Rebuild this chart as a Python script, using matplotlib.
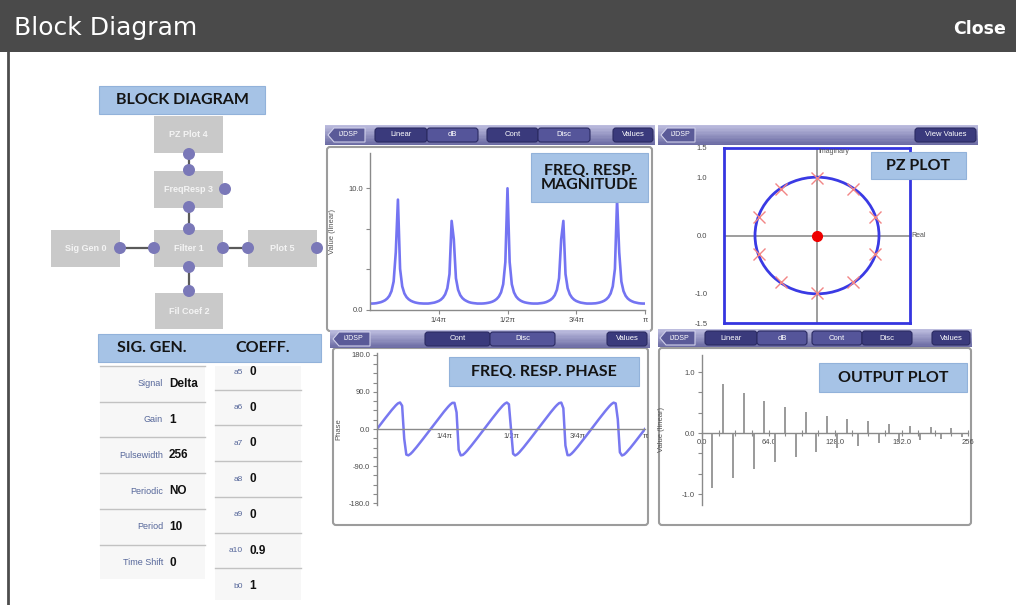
import numpy as np
import matplotlib
matplotlib.use("Agg")
import matplotlib.pyplot as plt
from matplotlib.patches import Rectangle, FancyBboxPatch, Circle, Polygon
from matplotlib.colors import to_rgb

W, H = 1016, 605

# ---------------- data ----------------
# magnitude of the frequency response, 129 samples over [0, pi]
mag_values = [
    0.53, 0.53, 0.54, 0.56, 0.60, 0.64, 0.71, 0.80, 0.94, 1.16,
    1.55, 2.34, 4.74, 9.07, 3.38, 1.94, 1.36, 1.06, 0.88, 0.76,
    0.68, 0.62, 0.58, 0.55, 0.54, 0.53, 0.53, 0.53, 0.55, 0.58,
    0.61, 0.67, 0.74, 0.85, 1.02, 1.29, 1.79, 2.95, 7.32, 5.82,
    2.61, 1.66, 1.22, 0.98, 0.83, 0.73, 0.65, 0.60, 0.57, 0.55,
    0.53, 0.53, 0.53, 0.54, 0.56, 0.59, 0.63, 0.69, 0.78, 0.91,
    1.11, 1.45, 2.12, 3.95, 10.00,
    3.95, 2.12, 1.45, 1.11, 0.91, 0.78, 0.69, 0.63, 0.59, 0.56,
    0.54, 0.53, 0.53, 0.53, 0.55, 0.57, 0.60, 0.65, 0.73, 0.83,
    0.98, 1.22, 1.66, 2.61, 5.82, 7.32, 2.95, 1.79, 1.29, 1.02,
    0.85, 0.74, 0.67, 0.61, 0.58, 0.55, 0.53, 0.53, 0.53, 0.54,
    0.55, 0.58, 0.62, 0.68, 0.76, 0.88, 1.06, 1.36, 1.94, 3.38,
    9.07, 4.74, 2.34, 1.55, 1.16, 0.94, 0.80, 0.71, 0.64, 0.60,
    0.56, 0.54, 0.53, 0.53,
]
# phase of the frequency response in degrees, same 129 samples
phase_values = [
    0.0, 6.7, 13.3, 19.9, 26.5, 33.0, 39.5, 45.7, 51.7, 57.3,
    62.0, 64.2, 56.3, -23.6, -62.0, -63.8, -60.3, -55.2, -49.4, -43.2,
    -36.9, -30.4, -23.9, -17.3, -10.6, -4.0, 2.7, 9.3, 16.0, 22.6,
    29.1, 35.6, 42.0, 48.2, 54.0, 59.3, 63.3, 63.3, 40.2, -50.3,
    -63.9, -62.7, -58.3, -52.9, -46.9, -40.7, -34.3, -27.8, -21.3, -14.6,
    -8.0, -1.3, 5.3, 12.0, 18.6, 25.2, 31.7, 38.2, 44.5, 50.6,
    56.3, 61.1, 64.1, 59.9, 0.0,
    -59.9, -64.1, -61.1, -56.3, -50.6, -44.5, -38.2, -31.7, -25.2, -18.6,
    -12.0, -5.3, 1.3, 8.0, 14.6, 21.3, 27.8, 34.3, 40.7, 46.9,
    52.9, 58.3, 62.7, 63.9, 50.3, -40.2, -63.3, -63.3, -59.3, -54.0,
    -48.2, -42.0, -35.6, -29.1, -22.6, -16.0, -9.3, -2.7, 4.0, 10.6,
    17.3, 23.9, 30.4, 36.9, 43.2, 49.4, 55.2, 60.3, 63.8, 62.0,
    23.6, -56.3, -64.2, -62.0, -57.3, -51.7, -45.7, -39.5, -33.0, -26.5,
    -19.9, -13.3, -6.7, 0.0,
]
freq_ticks = [32, 64, 96, 128]
freq_tick_labels = ["1/4\u03c0", "1/2\u03c0", "3/4\u03c0", "\u03c0"]

output_n = [0, 10, 20, 30, 40, 50, 60, 70, 80, 90, 100, 110, 120,
            130, 140, 150, 160, 170, 180, 190, 200, 210, 220, 230, 240, 250]
output_values = [1.0, -0.9, 0.81, -0.73, 0.66, -0.59, 0.53, -0.48, 0.43,
                 -0.39, 0.35, -0.31, 0.28, -0.25, 0.23, -0.21, 0.19, -0.17,
                 0.15, -0.14, 0.12, -0.11, 0.10, -0.09, 0.08, -0.07]
out_xticks = [0, 64, 128, 192, 256]
out_xtick_labels = ["0.0", "64.0", "128.0", "192.0", "256"]

pole_re = [0.94, 0.58, 0.0, -0.58, -0.94, -0.94, -0.58, 0.0, 0.58, 0.94]
pole_im = [0.31, 0.80, 0.99, 0.80, 0.31, -0.31, -0.80, -0.99, -0.80, -0.31]
zero_re = [0.0]
zero_im = [0.0]
pz_yticks = [-1.5, -1.0, 0.0, 1.0, 1.5]

sig_labels = ["Signal", "Gain", "Pulsewidth", "Periodic", "Period", "Time Shift"]
sig_values = ["Delta", "1", "256", "NO", "10", "0"]
coef_labels = ["a5", "a6", "a7", "a8", "a9", "a10", "b0"]
coef_values = ["0", "0", "0", "0", "0", "0.9", "1"]
block_names = ["PZ Plot 4", "FreqResp 3", "Filter 1", "Sig Gen 0", "Plot 5", "Fil Coef 2"]

# ---------------- figure ----------------
LBL = "Lato"
SANS = "Liberation Sans"
fig = plt.figure(figsize=(W / 100, H / 100), dpi=100)
fig.patch.set_facecolor("white")
bg = fig.add_axes([0, 0, 1, 1])
bg.set_xlim(0, W)
bg.set_ylim(H, 0)
bg.axis("off")


def pax(x0, y0, x1, y1):
    ax = fig.add_axes([x0 / W, 1 - y1 / H, (x1 - x0) / W, (y1 - y0) / H])
    ax.set_facecolor("none")
    return ax


def rbox(ax, x0, y0, x1, y1, fc, ec="none", lw=0.8, r=3, z=1):
    ax.add_patch(FancyBboxPatch((x0, y0), x1 - x0, y1 - y0,
                                boxstyle=f"round,pad=0,rounding_size={r}",
                                fc=fc, ec=ec, lw=lw, zorder=z))


# header
bg.add_patch(Rectangle((0, 0), W, 52, fc="#4a4a4a", ec="none"))
bg.text(14, 28, "Block Diagram", color="white", fontsize=18, ha="left",
        va="center", family="DejaVu Sans")
bg.text(1006, 29, "Close", color="white", fontsize=12.5, fontweight="bold",
        ha="right", va="center", family="DejaVu Sans")
bg.plot([8, 8], [52, 605], color="#4d4d4d", lw=2)

# block diagram
block_boxes = [(154, 116, 223, 153), (154, 171, 223, 208), (154, 230, 223, 267),
               (51, 230, 120, 267), (248, 230, 317, 267), (155, 293, 223, 329)]
for name, (x0, y0, x1, y1) in zip(block_names, block_boxes):
    bg.add_patch(Rectangle((x0, y0), x1 - x0, y1 - y0, fc="#c9c9c9", ec="none"))
    bg.text((x0 + x1) / 2, (y0 + y1) / 2, name, color="#f4f4f4", fontsize=6.5,
            fontweight="bold", ha="center", va="center", family=SANS)
links = [((189, 154), (189, 170)), ((189, 207), (189, 229)),
         ((120, 248), (154, 248)), ((223, 248), (248, 248)),
         ((189, 267), (189, 291))]
for (a, b) in links:
    bg.plot([a[0], b[0]], [a[1], b[1]], color="#5a5a5a", lw=1.6, zorder=2)
dots = [(189, 154), (189, 170), (225, 189), (189, 207), (189, 229), (154, 248),
        (223, 248), (189, 267), (120, 248), (248, 248), (317, 248), (189, 291)]
for (x, y) in dots:
    bg.add_patch(Circle((x, y), 6, fc="#7a78b8", ec="none", zorder=3))

# title boxes (left)
bg.add_patch(Rectangle((99, 86), 166, 28, fc="#a6c3e6", ec="#92b2da", lw=0.8))
bg.text(182, 100.5, "BLOCK DIAGRAM", fontsize=11.5, fontweight="bold",
        family=LBL, ha="center", va="center", color="#141414")
bg.add_patch(Rectangle((98, 334), 223, 28, fc="#a6c3e6", ec="#92b2da", lw=0.8))
bg.text(152, 348.5, "SIG. GEN.", fontsize=11.5, fontweight="bold", family=LBL,
        ha="center", va="center", color="#141414")
bg.text(263, 348.5, "COEFF.", fontsize=11.5, fontweight="bold", family=LBL,
        ha="center", va="center", color="#141414")

# sig gen table
bg.add_patch(Rectangle((100, 366), 105, 213, fc="#f7f7f7", ec="none"))
for i, (lab, val) in enumerate(zip(sig_labels, sig_values)):
    ytop = 366 + i * 35.7
    bg.plot([100, 205], [ytop, ytop], color="#c2c2c2", lw=1)
    yc = ytop + 18
    bg.text(163, yc, lab, fontsize=6.5, color="#56679a", ha="right", va="center",
            family=SANS)
    bg.text(169, yc, val, fontsize=8.5, color="#111111", ha="left", va="center",
            fontweight="bold", family=SANS)

# coefficient table
bg.add_patch(Rectangle((215, 366), 86, 234, fc="#f7f7f7", ec="none"))
for i, (lab, val) in enumerate(zip(coef_labels, coef_values)):
    ytop = 354 + i * 35.7
    if i > 0:
        bg.plot([215, 301], [ytop, ytop], color="#c2c2c2", lw=1)
    yc = ytop + 18
    bg.text(243, yc, lab, fontsize=6, color="#56679a", ha="right", va="center",
            family=SANS)
    bg.text(249, yc, val, fontsize=8.5, color="#111111", ha="left", va="center",
            fontweight="bold", family=SANS)

# plot frames
rbox(bg, 327, 147, 652, 331, "white", "#9c9c9c", 1.5)
rbox(bg, 333, 348, 648, 525, "white", "#9c9c9c", 1.5)
rbox(bg, 659, 348, 971, 525, "white", "#9c9c9c", 1.5)


# toolbars
def toolbar(x0, x1, y0, y1):
    n = 14
    top = np.array(to_rgb("#bcbcde"))
    bot = np.array(to_rgb("#6c6ca4"))
    for i in range(n):
        c = top + (bot - top) * i / (n - 1)
        bg.add_patch(Rectangle((x0, y0 + (y1 - y0) * i / n), x1 - x0,
                               (y1 - y0) / n + 0.4, fc=c, ec="none", zorder=4))


def back(x0, x1, y0, y1):
    ym = (y0 + y1) / 2
    bg.add_patch(Polygon([(x0, ym), (x0 + 6, y0), (x1, y0), (x1, y1), (x0 + 6, y1)],
                         closed=True, fc="#5a5a98", ec="#d0d0ea", lw=0.8, zorder=5))
    bg.text((x0 + x1) / 2 + 2, ym, "iJDSP", color="white", fontsize=5,
            ha="center", va="center", family=SANS, zorder=6)


def button(x0, x1, y0, y1, text, fc="#3a3a7c"):
    rbox(bg, x0, y0, x1, y1, fc, "#2a2a62", 0.8, 3, 5)
    bg.text((x0 + x1) / 2, (y0 + y1) / 2, text, color="white", fontsize=5.5,
            ha="center", va="center", family=SANS, zorder=6)


DARK, LIGHT = "#3a3a7c", "#55559a"
toolbar(325, 655, 125, 145)
back(328, 365, 128, 142)
button(375, 427, 128, 142, "Linear", DARK)
button(427, 478, 128, 142, "dB", LIGHT)
button(487, 538, 128, 142, "Cont", DARK)
button(538, 590, 128, 142, "Disc", LIGHT)
button(613, 653, 128, 142, "Values", DARK)

toolbar(658, 978, 125, 145)
back(661, 695, 128, 142)
button(915, 976, 128, 142, "View Values", DARK)

toolbar(330, 650, 330, 348)
back(333, 370, 332, 346)
button(425, 490, 332, 346, "Cont", DARK)
button(490, 555, 332, 346, "Disc", LIGHT)
button(607, 647, 332, 346, "Values", DARK)

toolbar(658, 972, 329, 347)
back(660, 695, 331, 345)
button(705, 757, 331, 345, "Linear", DARK)
button(757, 807, 331, 345, "dB", LIGHT)
button(812, 862, 331, 345, "Cont", LIGHT)
button(862, 912, 331, 345, "Disc", DARK)
button(932, 970, 331, 345, "Values", DARK)

AX = "#8a8a8a"
TXT = "#4a4a4a"


def style(ax):
    for s in ["top", "right"]:
        ax.spines[s].set_visible(False)
    for s in ["left", "bottom"]:
        ax.spines[s].set_color(AX)
        ax.spines[s].set_linewidth(1)
    ax.tick_params(which="both", colors=AX, labelcolor=TXT, labelsize=5.5,
                   length=3, width=0.8, pad=2)
    for lab in ax.get_xticklabels() + ax.get_yticklabels():
        lab.set_family(SANS)


# magnitude plot
ax1 = pax(370, 153, 645, 310)
ax1.plot(range(len(mag_values)), mag_values, color="#7474f2", lw=1.9,
         solid_joinstyle="round")
ax1.set_xlim(0, 128)
ax1.set_ylim(0, 12.9)
ax1.set_xticks(freq_ticks)
ax1.set_xticklabels(freq_tick_labels)
ax1.set_yticks([0, 10])
ax1.set_yticklabels(["0.0", "10.0"])
ax1.set_yticks([10 / 3, 20 / 3], minor=True)
style(ax1)
ax1.set_ylabel("Value (linear)", fontsize=5.5, color="#555555", family=SANS)
ax1.yaxis.set_label_coords(-0.125, 0.5)

# phase plot
ax2 = pax(377, 353, 645, 505)
ax2.plot(range(len(phase_values)), phase_values, color="#7878f0", lw=1.8,
         solid_joinstyle="round")
ax2.set_xlim(0, 128)
ax2.set_ylim(-184, 184)
ax2.spines["bottom"].set_position(("data", 0))
ax2.set_xticks(freq_ticks)
ax2.set_xticklabels(freq_tick_labels)
ax2.set_yticks([-180, -90, 0, 90, 180])
ax2.set_yticklabels(["-180.0", "-90.0", "0.0", "90.0", "180.0"])
ax2.set_yticks([-157.5, -135, -112.5, -67.5, -45, -22.5, 22.5, 45, 67.5,
                112.5, 135, 157.5], minor=True)
style(ax2)
ax2.tick_params(axis="x", length=0, pad=3)
ax2.set_ylabel("Phase", fontsize=5.5, color="#555555", family=SANS)
ax2.yaxis.set_label_coords(-0.13, 0.5)

# output plot
ax3 = pax(702, 355, 968, 505)
ax3.vlines(output_n, 0, output_values, color="#9a9a9a", lw=1.4)
ax3.set_xlim(0, 256)
ax3.set_ylim(-1.18, 1.28)
ax3.spines["bottom"].set_position(("data", 0))
ax3.set_xticks(out_xticks)
ax3.set_xticklabels(out_xtick_labels)
ax3.set_xticks([16, 32, 48, 80, 96, 112, 144, 160, 176, 208, 224, 240], minor=True)
ax3.set_yticks([-1, 0, 1])
ax3.set_yticklabels(["-1.0", "0.0", "1.0"])
ax3.set_yticks([-2 / 3, -1 / 3, 1 / 3, 2 / 3], minor=True)
style(ax3)
ax3.tick_params(axis="x", which="both", direction="inout", length=4, pad=2)
ax3.set_ylabel("Value (linear)", fontsize=5.5, color="#555555", family=SANS)
ax3.yaxis.set_label_coords(-0.14, 0.5)

# pole-zero plot
ax4 = pax(724, 148, 910, 323)
ax4.set_xlim(-1.5, 1.5)
ax4.set_ylim(-1.5, 1.5)
for s in ax4.spines.values():
    s.set_color("#3535e0")
    s.set_linewidth(2)
ax4.axhline(0, color="#8c8c8c", lw=1.2, zorder=1)
ax4.axvline(0, color="#8c8c8c", lw=1.2, zorder=1)
ax4.add_patch(Circle((0, 0), 1.0, fill=False, ec="#3a3ae4", lw=2, zorder=2))
ax4.plot(pole_re, pole_im, "x", color="#f28585", ms=9, mew=1.0, zorder=3)
ax4.plot(zero_re, zero_im, "o", color="#ee0000", ms=7, zorder=4)
ax4.set_xticks([])
ax4.set_yticks(pz_yticks)
ax4.set_yticklabels(["-1.5", "-1.0", "0.0", "1.0", "1.5"])
ax4.tick_params(axis="y", length=0, pad=12, labelsize=5.5, labelcolor=TXT)
for lab in ax4.get_yticklabels():
    lab.set_family(SANS)
ax4.text(0.02, 1.44, "Imaginary", fontsize=5, color="#555555", ha="left",
         va="center", family=SANS)
ax4.text(1.53, 0.0, "Real", fontsize=5, color="#555555", ha="left", va="center",
         family=SANS, clip_on=False)

# overlay label boxes
top = fig.add_axes([0, 0, 1, 1])
top.set_xlim(0, W)
top.set_ylim(H, 0)
top.axis("off")
top.set_facecolor("none")
for (x0, y0, x1, y1, txt) in [(531, 153, 648, 202, "FREQ. RESP.\nMAGNITUDE"),
                              (871, 152, 966, 179, "PZ PLOT"),
                              (449, 357, 639, 386, "FREQ. RESP. PHASE"),
                              (819, 363, 967, 392, "OUTPUT PLOT")]:
    top.add_patch(Rectangle((x0, y0), x1 - x0, y1 - y0, fc="#a6c3e6",
                            ec="#92b2da", lw=0.8))
    top.text((x0 + x1) / 2, (y0 + y1) / 2 + 0.5, txt, fontsize=11.5,
             fontweight="bold", family=LBL, ha="center", va="center",
             color="#141414", linespacing=1.05)

fig.savefig("out.png", dpi=100, facecolor="white")
